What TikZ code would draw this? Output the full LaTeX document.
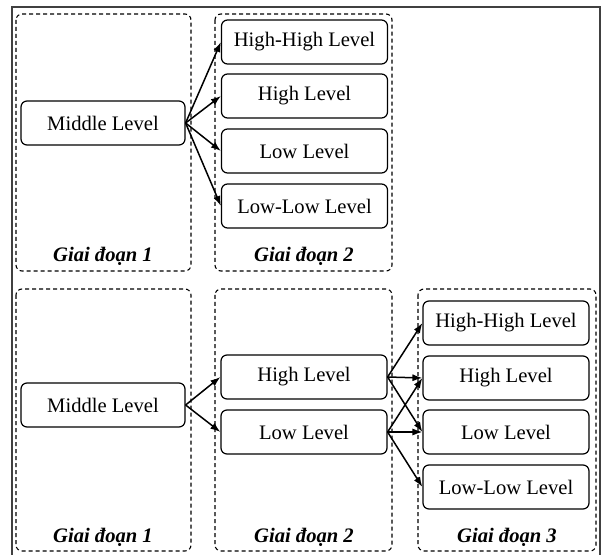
\documentclass[tikz,border=0pt]{standalone}
\usepackage{fontspec}
\setmainfont{Liberation Serif}
\usepackage{tikz}
\usetikzlibrary{positioning,arrows.meta}

\tikzset{
  lvl/.style={draw, rounded corners=3pt, line width=0.6pt, minimum width=83pt,
    minimum height=22pt, inner sep=0pt, font=\fontsize{10.3}{12}\selectfont},
  grp/.style={draw, dash pattern=on 2pt off 1.5pt, rounded corners=3pt, line width=0.55pt},
  stage/.style={font=\fontsize{10.3}{12}\selectfont\bfseries\itshape},
  arr/.style={-{Latex[length=5pt,width=3.6pt]}, line width=0.75pt}
}

\begin{document}
\begin{tikzpicture}[x=0.5pt,y=-0.5pt]
\useasboundingbox (0,0) rectangle (604,555);
\draw[line width=0.8pt, black!75] (12,555) -- (12,7) -- (600,7) -- (600,555);

% upper part: stage 1 -> stage 2
\draw[grp] (16,14) rectangle (191,271);
\draw[grp] (215,14) rectangle (392,271);
\node[lvl, minimum width=82pt] (midA) at (103,123) {Middle Level};
\node[lvl] (hhA) at (304.5,42) {High-High Level};
\node[lvl] (hA) at (304.5,96) {High Level};
\node[lvl] (lA) at (304.5,151) {Low Level};
\node[lvl] (llA) at (304.5,206) {Low-Low Level};
\foreach \n in {hhA,hA,lA,llA}
  \draw[arr] (midA.east) -- (\n.west);
\node[stage] (stA1) at (103,256) {Giai đoạn 1};
\node[stage] (stA2) at (304,256) {Giai đoạn 2};

% lower part: stage 1 -> stage 2 -> stage 3
\draw[grp] (16,289) rectangle (191,551);
\draw[grp] (215,289) rectangle (392,551);
\draw[grp] (418,289) rectangle (596,551);
\node[lvl, minimum width=82pt] (midB) at (103,405) {Middle Level};
\node[lvl] (hB) at (304,377) {High Level};
\node[lvl] (lB) at (304,432) {Low Level};
\node[lvl] (hhC) at (506,323) {High-High Level};
\node[lvl] (hC) at (506,378) {High Level};
\node[lvl] (lC) at (506,432) {Low Level};
\node[lvl] (llC) at (506,487) {Low-Low Level};
\draw[arr] (midB.east) -- (hB.west);
\draw[arr] (midB.east) -- (lB.west);
\foreach \n in {hhC,hC,lC}
  \draw[arr] (hB.east) -- (\n.west);
\foreach \n in {hC,lC,llC}
  \draw[arr] (lB.east) -- (\n.west);
\node[stage] (stB1) at (103,537) {Giai đoạn 1};
\node[stage] (stB2) at (304,537) {Giai đoạn 2};
\node[stage] (stB3) at (507,537) {Giai đoạn 3};
\end{tikzpicture}
\end{document}
